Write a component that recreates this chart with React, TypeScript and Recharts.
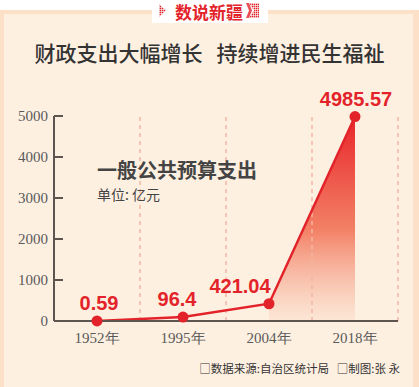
import React from "react";
import {
  ComposedChart,
  Line,
  Area,
  XAxis,
  YAxis,
  ReferenceLine,
  LabelList,
} from "recharts";

const years = ["1952年", "1995年", "2004年", "2018年"];
const spending = [0.59, 96.4, 421.04, 4985.57];
const valueLabels = ["0.59", "96.4", "421.04", "4985.57"];
const yTicks = [0, 1000, 2000, 3000, 4000, 5000];

// only the last segment gets the gradient fill
const shadedFrom = 2;

const chartData = years.map((year, i) => ({
  pos: i + 0.5,
  year,
  value: spending[i],
  shade: i >= shadedFrom ? spending[i] : null,
  label: valueLabels[i],
}));

const bandEdges = years.map((_, i) => i + 1);
const xTicks = chartData.map((d) => d.pos);

const RED = "#E3232A";
const CJK = '"Noto Sans CJK SC", "Noto Sans", sans-serif';

// small nudges so labels sit where the poster placed them
const labelDx = [2, -6, -29, 1];

const ValueLabel = (props: any) => {
  const { x, y, index, value } = props;
  return (
    <text
      x={x + (labelDx[index] || 0)}
      y={y - 11}
      textAnchor="middle"
      fill={RED}
      fontSize={20}
      fontWeight={700}
      fontFamily='"Liberation Sans", Arial, sans-serif'
    >
      {value}
    </text>
  );
};

const Banner = () => (
  <svg
    width={116}
    height={23}
    style={{ position: "absolute", left: 152, top: 0 }}
  >
    <defs>
      <pattern id="dots" width="2" height="2" patternUnits="userSpaceOnUse">
        <rect width="1.4" height="1.4" fill={RED} />
      </pattern>
    </defs>
    <rect x={0} y={0} width={116} height={23} fill="#fff" />
    <polygon points="7,4 14,10.5 7,17" fill="url(#dots)" />
    <text
      x={57}
      y={18.5}
      textAnchor="middle"
      fill={RED}
      fontSize={17}
      fontWeight={700}
      fontFamily={CJK}
    >
      数说新疆
    </text>
    <polygon points="97,3 107,3 107,18 97,18 102,10.5" fill="url(#dots)" />
    <polygon points="94,3 97,3 100,10.5 97,18 94,18 97,10.5" fill={RED} opacity={0.8} />
  </svg>
);

const App = () => {
  return (
    <div
      style={{
        position: "absolute",
        left: 0,
        top: 0,
        width: 419,
        height: 387,
        background: "#fff",
        overflow: "hidden",
      }}
    >
      <div
        style={{
          position: "absolute",
          left: 0,
          top: 10,
          width: 419,
          height: 377,
          boxSizing: "border-box",
          background: "#FEF0E1",
          borderLeft: "4px solid #FCE1C8",
          borderTop: "4px solid #FCE1C8",
          borderRight: "6px solid #FCE1C8",
        }}
      />
      <Banner />
      <div
        style={{
          position: "absolute",
          left: 0,
          top: 38,
          width: 419,
          textAlign: "center",
          fontFamily: CJK,
          fontWeight: 500,
          fontSize: 21,
          lineHeight: "28px",
          color: "#333",
          whiteSpace: "pre",
        }}
      >
        财政支出大幅增长{"   "}持续增进民生福祉
      </div>

      <ComposedChart
        width={419}
        height={387}
        data={chartData}
        margin={{ top: 116, right: 21, bottom: 36, left: 4 }}
        style={{ position: "absolute", left: 0, top: 0 }}
      >
        <defs>
          <linearGradient id="shadeFill" x1="0" y1="0" x2="0" y2="1">
            <stop offset="0%" stopColor="#E8242A" stopOpacity={1} />
            <stop offset="55%" stopColor="#F27A5E" stopOpacity={0.95} />
            <stop offset="100%" stopColor="#FBE0CE" stopOpacity={0.6} />
          </linearGradient>
        </defs>
        <XAxis
          dataKey="pos"
          type="number"
          domain={[0, years.length]}
          ticks={xTicks}
          tickFormatter={(v: number) => years[Math.floor(v)]}
          height={30}
          tickLine={false}
          tickSize={0}
          tickMargin={11}
          axisLine={{ stroke: "#5E5450", strokeWidth: 2 }}
          tick={{ fontSize: 15, fill: "#5a5a5a", fontFamily: '"Liberation Serif", serif' }}
          interval={0}
        />
        <YAxis
          type="number"
          domain={[0, 5000]}
          ticks={yTicks}
          width={50}
          tickSize={-9}
          tickMargin={15}
          tickLine={{ stroke: "#5E5450", strokeWidth: 2 }}
          axisLine={{ stroke: "#5E5450", strokeWidth: 2 }}
          tick={{ fontSize: 15, fill: "#5a5a5a", fontFamily: '"Liberation Serif", serif' }}
          interval={0}
        />
        {bandEdges.map((edge) => (
          <ReferenceLine
            key={edge}
            x={edge}
            stroke="#F2B5A4"
            strokeWidth={1.5}
            strokeDasharray="4 4"
          />
        ))}
        <Area
          type="linear"
          dataKey="shade"
          stroke="none"
          fill="url(#shadeFill)"
          fillOpacity={1}
          isAnimationActive={false}
          dot={false}
          activeDot={false}
        />
        <Line
          type="linear"
          dataKey="value"
          stroke={RED}
          strokeWidth={2.5}
          dot={{ r: 5.5, fill: RED, stroke: RED, strokeWidth: 0 }}
          activeDot={false}
          isAnimationActive={false}
        >
          <LabelList dataKey="label" content={<ValueLabel />} />
        </Line>
      </ComposedChart>

      <div
        style={{
          position: "absolute",
          left: 97,
          top: 157,
          fontFamily: CJK,
          fontWeight: 700,
          fontSize: 20,
          lineHeight: "26px",
          color: "#444",
        }}
      >
        一般公共预算支出
      </div>
      <div
        style={{
          position: "absolute",
          left: 97,
          top: 184,
          fontFamily: CJK,
          fontSize: 14,
          lineHeight: "20px",
          color: "#444",
        }}
      >
        单位: 亿元
      </div>
      <div
        style={{
          position: "absolute",
          right: 19,
          top: 359,
          fontFamily: CJK,
          fontSize: 11.5,
          lineHeight: "18px",
          color: "#333",
          whiteSpace: "pre",
        }}
      >
        □数据来源:自治区统计局{"   "}□制图:张 永
      </div>
    </div>
  );
};

export default App;
